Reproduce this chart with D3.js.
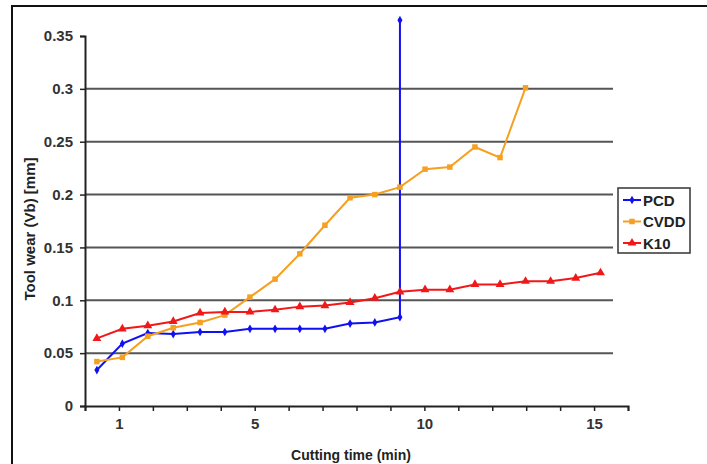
<!DOCTYPE html>
<html>
<head>
<meta charset="utf-8">
<script src="https://cdn.jsdelivr.net/npm/d3@7"></script>
<style>
  body { margin:0; background:#fff; }
  text { font-family: "Liberation Sans", Arial, sans-serif; font-weight:bold; fill:#222; }
</style>
</head>
<body>
<script>
// cutting time (min) and wear values
var times = [0.35,1.1,1.85,2.6,3.39,4.12,4.86,5.6,6.33,7.07,7.81,8.54,9.28,10.02,10.75,11.49,12.23,12.98,13.72,14.46,15.19];
var pcd  = [0.034,0.059,0.069,0.068,0.070,0.070,0.073,0.073,0.073,0.073,0.078,0.079,0.084];
var pcdEnd = 0.365;   // sudden failure at the last cut
var cvdd = [0.042,0.046,0.066,0.074,0.079,0.086,0.103,0.120,0.144,0.171,0.197,0.200,0.207,0.224,0.226,0.245,0.235,0.301];
var k10  = [0.064,0.073,0.076,0.080,0.088,0.089,0.089,0.091,0.094,0.095,0.098,0.102,0.108,0.110,0.110,0.115,0.115,0.118,0.118,0.121,0.126];
var yTicks = [0,0.05,0.1,0.15,0.2,0.25,0.3,0.35];
var xLabels = [1,5,10,15];
var names = ["PCD","CVDD","K10"];
var colors = ["#1010f0","#f5a020","#f01818"];

var W=707, H=464;
var svg = d3.select("body").append("svg").attr("width",W).attr("height",H);

// outer frame
svg.append("rect").attr("x",12).attr("y",6).attr("width",740).attr("height",500)
   .attr("fill","none").attr("stroke","#111").attr("stroke-width",2);

var x = d3.scaleLinear().domain([0,16]).range([85,628]);
var y = d3.scaleLinear().domain([0,0.35]).range([406,36]);

// gridlines
svg.append("g").selectAll("line").data(yTicks.filter(function(d){return d>0 && d<0.35;}))
  .enter().append("line")
  .attr("x1",85).attr("x2",613)
  .attr("y1",function(d){return y(d);}).attr("y2",function(d){return y(d);})
  .attr("stroke","#555").attr("stroke-width",2);

// axes
var yAxis = svg.append("g").attr("transform","translate(85,0)")
  .call(d3.axisLeft(y).tickValues(yTicks).tickSize(5).tickPadding(7)
        .tickFormat(function(d){return d===0?"0":String(+d.toFixed(2));}));
var xAxis = svg.append("g").attr("transform","translate(0,406)")
  .call(d3.axisBottom(x).tickValues(d3.range(0,17)).tickSize(5).tickPadding(7)
        .tickFormat(function(d){return xLabels.indexOf(d)>=0?d:"";}));
[yAxis,xAxis].forEach(function(a){
  a.select(".domain").attr("stroke","#222").attr("stroke-width",2);
  a.selectAll(".tick line").attr("stroke","#222").attr("stroke-width",1.5);
  a.selectAll("text").style("font-size","15px").style("fill","#333")
   .style("font-family","'Liberation Sans', Arial, sans-serif").style("font-weight","bold");
});

// axis titles
svg.append("text").attr("x",351).attr("y",460).attr("text-anchor","middle")
  .style("font-size","14px").text("Cutting time (min)");
svg.append("text").attr("transform","translate(35,229) rotate(-90)").attr("text-anchor","middle")
  .style("font-size","15px").text("Tool wear (Vb) [mm]");

// series data
var pcdPts = pcd.map(function(v,i){return [times[i],v];});
pcdPts.push([times[pcd.length-1],pcdEnd]);
var series = [
  pcdPts,
  cvdd.map(function(v,i){return [times[i],v];}),
  k10.map(function(v,i){return [times[i],v];})
];
var symbols = [d3.symbolDiamond, d3.symbolSquare, d3.symbolTriangle];
var sizes = [22, 30, 34];

var line = d3.line().x(function(d){return x(d[0]);}).y(function(d){return y(d[1]);});

series.forEach(function(s,k){
  svg.append("path").datum(s).attr("d",line)
    .attr("fill","none").attr("stroke",colors[k]).attr("stroke-width",2);
});
series.forEach(function(s,k){
  svg.append("g").selectAll("path").data(s).enter().append("path")
    .attr("transform",function(d){return "translate("+x(d[0])+","+y(d[1])+")";})
    .attr("d",d3.symbol().type(symbols[k]).size(sizes[k]))
    .attr("fill",colors[k]);
});

// legend
var lg = svg.append("g");
lg.append("rect").attr("x",618).attr("y",188).attr("width",72).attr("height",65)
  .attr("fill","#fff").attr("stroke","#333").attr("stroke-width",1.5);
names.forEach(function(n,k){
  var yy = 200 + k*21.5;
  lg.append("line").attr("x1",623).attr("x2",641).attr("y1",yy).attr("y2",yy)
    .attr("stroke",colors[k]).attr("stroke-width",2);
  lg.append("path").attr("transform","translate(632,"+yy+")")
    .attr("d",d3.symbol().type(symbols[k]).size(sizes[k])).attr("fill",colors[k]);
  lg.append("text").attr("x",643).attr("y",yy+5.5).style("font-size","15px").text(n);
});
</script>
</body>
</html>
